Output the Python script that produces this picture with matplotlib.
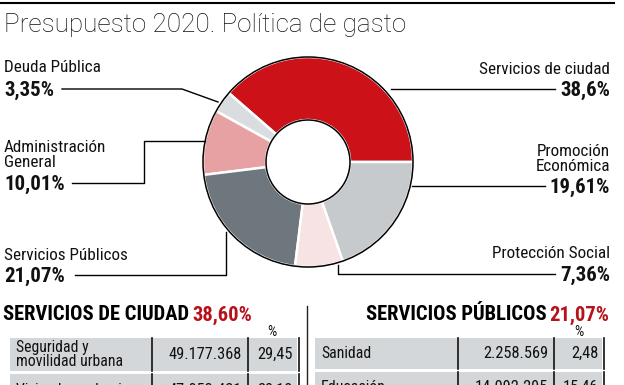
#!/usr/bin/env python3

import matplotlib
matplotlib.use('Agg')
import matplotlib.pyplot as plt
from matplotlib import font_manager
from matplotlib.patches import Circle, Rectangle

# data
categorias = ['Servicios de ciudad', 'Deuda Pública', 'Administración\nGeneral',
              'Servicios Públicos', 'Protección Social', 'Promoción\nEconómica']
porcentajes = [38.6, 3.35, 10.01, 21.07, 7.36, 19.61]
etiquetas_pct = ['38,6%', '3,35%', '10,01%', '21,07%', '7,36%', '19,61%']
colores = ['#cc1118', '#d9dde0', '#e8a1a3', '#6e777d', '#f7e3e3', '#c6cacd']

ciudad_filas = ['Seguridad y\nmovilidad urbana', 'Vivienda y urbanismo']
ciudad_euros = ['49.177.368', '47.053.421']
ciudad_pct = ['29,45', '28,18']

publicos_filas = ['Sanidad', 'Educación']
publicos_euros = ['2.258.569', '14.092.295']
publicos_pct = ['2,48', '15,46']

# pick a narrow face if there is one
nombres = {f.name for f in font_manager.fontManager.ttflist}
fuente = 'DejaVu Sans'
for f in ['Liberation Sans Narrow', 'Roboto Condensed', 'Open Sans Condensed', 'Roboto', 'Noto Sans']:
    if f in nombres:
        fuente = f
        break
plt.rcParams['font.family'] = [fuente, 'DejaVu Sans']

fig = plt.figure(figsize=(6.24, 3.85), dpi=100)
ax = fig.add_axes([0, 0, 1, 1])

# donut
cx, cy, r = 308, 162, 105
ax.pie(porcentajes, colors=colores, startangle=0, counterclock=False,
       radius=r, center=(cx, cy),
       wedgeprops=dict(width=r - 42, edgecolor='white', linewidth=1.8))
ax.add_patch(Circle((cx, cy), r, fill=False, ec='black', lw=1.1))
ax.add_patch(Circle((cx, cy), 42, fill=False, ec='black', lw=1.1))

ax.set_xlim(0, 624)
ax.set_ylim(385, 0)
ax.set_aspect('equal')
ax.set_axis_off()

# top rule and title
ax.plot([0, 614], [3, 3], color='black', lw=1.5)
ax.text(4, 25, 'Presupuesto 2020. Política de gasto', fontsize=18.8, fontweight='light',
        family=['Roboto', 'DejaVu Sans'], va='center', ha='left', color='#111111')

# leader lines
lineas = [
    ([391, 555], [89, 89]),
    ([62, 182, 218], [89, 89, 102]),
    ([72, 144, 144, 205], [183, 183, 141, 141]),
    ([75, 226, 226], [275, 275, 232]),
    ([338, 338, 555], [265, 274, 274]),
    ([412, 545], [186, 186]),
]
for xs, ys in lineas:
    ax.plot(xs, ys, color='black', lw=1.0)

# labels: (x, y name, y pct, ha)
pos = [
    (610, 69, 90, 'right'),
    (4, 68, 90, 'left'),
    (4, 155, 184, 'left'),
    (4, 255, 276, 'left'),
    (610, 254, 275, 'right'),
    (610, 159, 187, 'right'),
]
for nombre, pct, (x, yn, yp, ha) in zip(categorias, etiquetas_pct, pos):
    ax.text(x, yn, nombre, fontsize=12.3, ha=ha, va='center', color='#111111',
            linespacing=1.0)
    ax.text(x, yp, pct, fontsize=15, fontweight='bold', ha=ha, va='center',
            color='#111111')

# section titles
t1 = ax.text(3, 315, 'SERVICIOS DE CIUDAD', fontsize=14.8, fontweight='heavy', ha='left',
             va='center', color='black')
ax.annotate('38,60%', xy=(1, 0.5), xycoords=t1, xytext=(2, 0), textcoords='offset points',
            fontsize=14.8, fontweight='heavy', ha='left', va='center', color='#b5121b')
t2 = ax.text(609, 315, '21,07%', fontsize=14.8, fontweight='heavy', ha='right',
             va='center', color='#b5121b')
ax.annotate('SERVICIOS PÚBLICOS', xy=(0, 0.5), xycoords=t2, xytext=(-2, 0),
            textcoords='offset points', fontsize=14.8, fontweight='heavy', ha='right',
            va='center', color='black')
ax.plot([307, 307], [306, 385], color='#222222', lw=1.0)


def tabla(x0, cortes, filas, euros, pct, y0, alto, xpct):
    # cortes: x positions of column dividers
    ax.text(xpct, 332, '%', fontsize=10.5, ha='center', va='center', color='#111111')
    for i, (f, e, p) in enumerate(zip(filas, euros, pct)):
        y = y0 + i * (alto + 3)
        ax.add_patch(Rectangle((x0, y), cortes[2] - x0 - 2, alto,
                               fc='#d4d7d9', ec='none'))
        ax.text(x0 + 6, y + alto / 2, f, fontsize=11.3, ha='left', va='center',
                color='#111111', linespacing=0.9)
        ax.text(cortes[1] - 6, y + alto / 2, e, fontsize=11.8, ha='right', va='center',
                color='#111111')
        ax.text(cortes[2] - 6, y + alto / 2, p, fontsize=11.8, ha='right', va='center',
                color='#111111')
        for c in cortes:
            ax.plot([c, c], [y, y + alto], color='#111111', lw=1.2)


tabla(10, [152, 248, 299], ciudad_filas, ciudad_euros, ciudad_pct, 338, 33, 272)
tabla(315, [458, 554, 604], publicos_filas, publicos_euros, publicos_pct, 338, 31, 579)

fig.savefig('out.png', dpi=100)
